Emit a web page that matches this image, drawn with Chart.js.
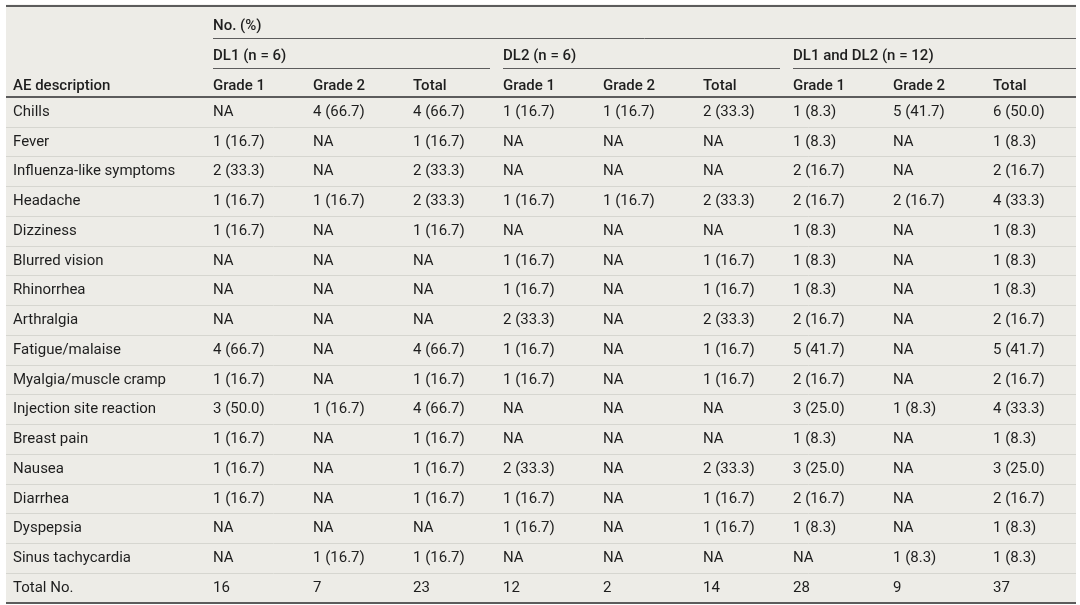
<!DOCTYPE html>
<html>
<head>
<meta charset="utf-8">
<script src="https://cdn.jsdelivr.net/npm/chart.js@4/dist/chart.umd.min.js"></script>
<style>
  html, body { margin: 0; padding: 0; background: #fff; }
  canvas { display: block; }
</style>
</head>
<body>
<canvas id="aeTable" width="1080" height="605"></canvas>
<script>
// Adverse events by dose level, No. (%)
const aeLabels = [
  'Chills', 'Fever', 'Influenza-like symptoms', 'Headache', 'Dizziness',
  'Blurred vision', 'Rhinorrhea', 'Arthralgia', 'Fatigue/malaise',
  'Myalgia/muscle cramp', 'Injection site reaction', 'Breast pain', 'Nausea',
  'Diarrhea', 'Dyspepsia', 'Sinus tachycardia', 'Total No.'
];

const dl1Grade1 = ['NA', '1 (16.7)', '2 (33.3)', '1 (16.7)', '1 (16.7)', 'NA', 'NA', 'NA', '4 (66.7)', '1 (16.7)', '3 (50.0)', '1 (16.7)', '1 (16.7)', '1 (16.7)', 'NA', 'NA', '16'];
const dl1Grade2 = ['4 (66.7)', 'NA', 'NA', '1 (16.7)', 'NA', 'NA', 'NA', 'NA', 'NA', 'NA', '1 (16.7)', 'NA', 'NA', 'NA', 'NA', '1 (16.7)', '7'];
const dl1Total  = ['4 (66.7)', '1 (16.7)', '2 (33.3)', '2 (33.3)', '1 (16.7)', 'NA', 'NA', 'NA', '4 (66.7)', '1 (16.7)', '4 (66.7)', '1 (16.7)', '1 (16.7)', '1 (16.7)', 'NA', '1 (16.7)', '23'];

const dl2Grade1 = ['1 (16.7)', 'NA', 'NA', '1 (16.7)', 'NA', '1 (16.7)', '1 (16.7)', '2 (33.3)', '1 (16.7)', '1 (16.7)', 'NA', 'NA', '2 (33.3)', '1 (16.7)', '1 (16.7)', 'NA', '12'];
const dl2Grade2 = ['1 (16.7)', 'NA', 'NA', '1 (16.7)', 'NA', 'NA', 'NA', 'NA', 'NA', 'NA', 'NA', 'NA', 'NA', 'NA', 'NA', 'NA', '2'];
const dl2Total  = ['2 (33.3)', 'NA', 'NA', '2 (33.3)', 'NA', '1 (16.7)', '1 (16.7)', '2 (33.3)', '1 (16.7)', '1 (16.7)', 'NA', 'NA', '2 (33.3)', '1 (16.7)', '1 (16.7)', 'NA', '14'];

const allGrade1 = ['1 (8.3)', '1 (8.3)', '2 (16.7)', '2 (16.7)', '1 (8.3)', '1 (8.3)', '1 (8.3)', '2 (16.7)', '5 (41.7)', '2 (16.7)', '3 (25.0)', '1 (8.3)', '3 (25.0)', '2 (16.7)', '1 (8.3)', 'NA', '28'];
const allGrade2 = ['5 (41.7)', 'NA', 'NA', '2 (16.7)', 'NA', 'NA', 'NA', 'NA', 'NA', 'NA', '1 (8.3)', 'NA', 'NA', 'NA', 'NA', '1 (8.3)', '9'];
const allTotal  = ['6 (50.0)', '1 (8.3)', '2 (16.7)', '4 (33.3)', '1 (8.3)', '1 (8.3)', '1 (8.3)', '2 (16.7)', '5 (41.7)', '2 (16.7)', '4 (33.3)', '1 (8.3)', '3 (25.0)', '2 (16.7)', '1 (8.3)', '1 (8.3)', '37'];

const countHeader = 'No. (%)';
const labelHeader = 'AE description';
const groupLabels = ['DL1 (n = 6)', 'DL2 (n = 6)', 'DL1 and DL2 (n = 12)'];
const gradeLabels = ['Grade 1', 'Grade 2', 'Total'];
const headerRows = ['count', 'group', 'grade'];

// column layout inside the table, in px
const colWidths = [207, 100, 100, 90, 100, 100, 90, 100, 100, 83];
const colLeft = colWidths.map((w, i) => colWidths.slice(0, i).reduce((s, v) => s + v, 0));
const tableWidth = colWidths.reduce((s, v) => s + v, 0);
const firstColInset = 7;
const groupGap = 13;
const headDrop = 3.5; // header text sits low in its row

const paper = '#edece7';
const ruleDark = '#5c5c5c';
const ruleLight = '#d6d6d0';
const ink = '#1e1e1e';
const bodyFont = '15px Roboto, "Open Sans", sans-serif';
const headFont = '500 15px Roboto, "Open Sans", sans-serif';

const columns = [aeLabels, dl1Grade1, dl1Grade2, dl1Total, dl2Grade1, dl2Grade2, dl2Total, allGrade1, allGrade2, allTotal];

// one invisible scatter series per column; the text is drawn at each point
const datasets = columns.map((cells, c) => ({
  label: c === 0 ? labelHeader : gradeLabels[(c - 1) % 3],
  cells: cells,
  data: aeLabels.map(row => ({ x: colLeft[c] + (c === 0 ? firstColInset : 0), y: row })),
  pointRadius: 0
}));

function hLine(ctx, x0, x1, y, width) {
  ctx.lineWidth = width;
  const yy = width % 2 ? Math.round(y) + 0.5 : Math.round(y);
  ctx.beginPath();
  ctx.moveTo(x0, yy);
  ctx.lineTo(x1, yy);
  ctx.stroke();
}

const tablePlugin = {
  id: 'tableCells',
  beforeDraw(chart) {
    const { ctx, chartArea: a } = chart;
    ctx.save();
    ctx.fillStyle = paper;
    ctx.fillRect(a.left, a.top - 3.5, a.right - a.left, a.bottom - a.top + 4);
    ctx.restore();
  },
  afterDraw(chart) {
    const { ctx, chartArea: a, scales: { x, y } } = chart;
    const half = (y.getPixelForValue(aeLabels[0]) - y.getPixelForValue(headerRows[2])) / 2;
    ctx.save();
    ctx.strokeStyle = ruleDark;

    // top rule
    hLine(ctx, a.left, a.right, a.top - 2.5, 2);
    // rule under "No. (%)"
    hLine(ctx, x.getPixelForValue(colLeft[1]), a.right, y.getPixelForValue(headerRows[0]) + half, 1);
    // rules under each dose group
    groupLabels.forEach((g, k) => {
      const c0 = 1 + k * 3;
      const x0 = x.getPixelForValue(colLeft[c0]);
      const x1 = k === groupLabels.length - 1 ? a.right : x.getPixelForValue(colLeft[c0 + 3] - groupGap);
      hLine(ctx, x0, x1, y.getPixelForValue(headerRows[1]) + half, 1);
    });

    // header text
    ctx.fillStyle = ink;
    ctx.font = headFont;
    ctx.textBaseline = 'middle';
    ctx.textAlign = 'left';
    ctx.fillText(countHeader, x.getPixelForValue(colLeft[1]), y.getPixelForValue(headerRows[0]) + headDrop);
    groupLabels.forEach((g, k) => {
      ctx.fillText(g, x.getPixelForValue(colLeft[1 + k * 3]), y.getPixelForValue(headerRows[1]) + headDrop);
    });
    ctx.fillText(labelHeader, x.getPixelForValue(colLeft[0] + firstColInset), y.getPixelForValue(headerRows[2]) + headDrop);
    for (let c = 1; c < columns.length; c++) {
      ctx.fillText(gradeLabels[(c - 1) % 3], x.getPixelForValue(colLeft[c]), y.getPixelForValue(headerRows[2]) + headDrop);
    }

    // body cells, placed at the scatter points
    ctx.font = bodyFont;
    chart.data.datasets.forEach((ds, d) => {
      chart.getDatasetMeta(d).data.forEach((pt, i) => {
        ctx.fillText(ds.cells[i], pt.x, pt.y);
      });
    });
    ctx.restore();
  }
};

new Chart(document.getElementById('aeTable'), {
  type: 'scatter',
  data: { datasets },
  options: {
    responsive: false,
    animation: false,
    events: [],
    layout: { padding: { left: 6, right: 4, top: 8, bottom: 2 } },
    plugins: { legend: { display: false }, tooltip: { enabled: false } },
    scales: {
      x: { type: 'linear', min: 0, max: tableWidth, display: false },
      y: {
        type: 'category',
        labels: [...headerRows, ...aeLabels],
        offset: true,
        border: { display: false },
        ticks: { display: false },
        grid: {
          offset: true,
          drawTicks: false,
          color: c => {
            if (c.index === undefined) return ruleDark; // bottom edge
            if (c.index < 3) return 'rgba(0,0,0,0)';
            return c.index === 3 ? ruleDark : ruleLight;
          },
          lineWidth: c => (c.index === undefined ? 2 : c.index === 3 ? 2 : 1)
        }
      }
    }
  },
  plugins: [tablePlugin]
});
</script>
</body>
</html>
